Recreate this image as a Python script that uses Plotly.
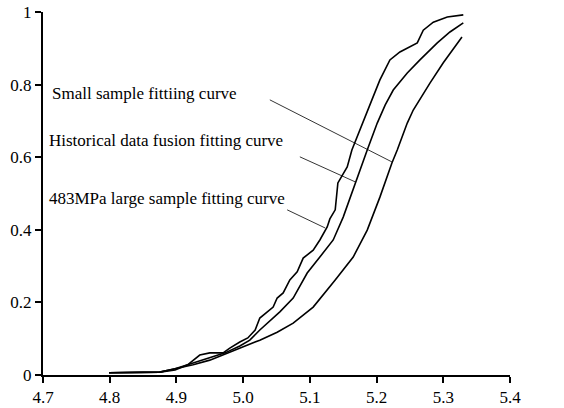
import plotly.graph_objects as go

# ── Data ────────────────────────────────────────────────────────────────────
# 483MPa large sample fitting curve (jagged)
large_x = [4.799, 4.875, 4.898, 4.917, 4.920, 4.935, 4.950, 4.970, 4.980, 4.995,
           5.007, 5.018, 5.025, 5.036, 5.045, 5.051, 5.060, 5.070, 5.081, 5.090,
           5.105, 5.115, 5.126, 5.130, 5.138, 5.142, 5.156, 5.163, 5.171, 5.180,
           5.193, 5.205, 5.220, 5.235, 5.261, 5.270, 5.285, 5.306, 5.330]
large_y = [0.006, 0.008, 0.014, 0.028, 0.033, 0.055, 0.061, 0.061, 0.074, 0.091,
           0.102, 0.124, 0.157, 0.174, 0.187, 0.212, 0.226, 0.262, 0.284, 0.322,
           0.344, 0.372, 0.408, 0.430, 0.455, 0.529, 0.573, 0.620, 0.656, 0.694,
           0.758, 0.813, 0.868, 0.890, 0.915, 0.950, 0.972, 0.986, 0.992]

# Historical data fusion fitting curve
fusion_x = [4.799, 4.875, 4.898, 4.920, 4.950, 4.973, 4.995, 5.010, 5.025, 5.040,
            5.055, 5.075, 5.096, 5.115, 5.135, 5.150, 5.168, 5.186, 5.201, 5.213,
            5.225, 5.246, 5.265, 5.291, 5.310, 5.330]
fusion_y = [0.006, 0.008, 0.017, 0.030, 0.047, 0.061, 0.080, 0.096, 0.124, 0.149,
            0.174, 0.212, 0.281, 0.325, 0.372, 0.435, 0.529, 0.620, 0.694, 0.744,
            0.785, 0.832, 0.868, 0.915, 0.945, 0.970]

# Small sample fitting curve
small_x = [4.799, 4.875, 4.898, 4.925, 4.950, 4.976, 5.003, 5.025, 5.051, 5.075,
           5.105, 5.138, 5.165, 5.186, 5.205, 5.223, 5.231, 5.246, 5.255, 5.280,
           5.300, 5.328]
small_y = [0.006, 0.008, 0.017, 0.028, 0.041, 0.061, 0.080, 0.096, 0.118, 0.143,
           0.187, 0.262, 0.325, 0.399, 0.490, 0.584, 0.620, 0.694, 0.730, 0.804,
           0.860, 0.931]

x_ticks = [4.7, 4.8, 4.9, 5.0, 5.1, 5.2, 5.3, 5.4]
y_ticks = [0, 0.2, 0.4, 0.6, 0.8, 1]

# labels: (text, text anchor x/y, leader start, leader end)
labels = [
    ("Small sample fittiing curve", 4.710, 0.775, (5.040, 0.758), (5.223, 0.587)),
    ("Historical data fusion fitting curve", 4.706, 0.647, (5.085, 0.601), (5.168, 0.532)),
    ("483MPa large sample fitting curve", 4.706, 0.487, (5.066, 0.455), (5.123, 0.405)),
]

FONT = "Liberation Serif, Times New Roman, serif"

fig = go.Figure()
for xs, ys in [(large_x, large_y), (fusion_x, fusion_y), (small_x, small_y)]:
    fig.add_trace(go.Scatter(x=xs, y=ys, mode="lines",
                             line=dict(color="black", width=1.6),
                             showlegend=False, hoverinfo="skip"))

for text, tx, ty, (x0, y0), (x1, y1) in labels:
    fig.add_annotation(x=tx, y=ty, text=text, showarrow=False,
                       xanchor="left", yanchor="middle",
                       font=dict(family=FONT, size=17, color="black"))
    fig.add_shape(type="line", x0=x0, y0=y0, x1=x1, y1=y1,
                  line=dict(color="black", width=0.8))

fig.update_layout(
    width=564, height=408,
    margin=dict(l=43, r=54, t=12, b=33),
    plot_bgcolor="white", paper_bgcolor="white",
    font=dict(family=FONT, size=17, color="black"),
    xaxis=dict(range=[4.7, 5.4], tickvals=x_ticks, tickformat=".1f",
               showgrid=False, zeroline=False, showline=True, automargin=False,
               linecolor="black", linewidth=2, ticks="outside",
               ticklen=6, tickwidth=2, tickcolor="black",
               ticklabeloverflow="allow"),
    yaxis=dict(range=[0, 1], tickvals=y_ticks, automargin=False,
               showgrid=False, zeroline=False, showline=True,
               linecolor="black", linewidth=2, ticks="outside",
               ticklen=6, tickwidth=2, tickcolor="black",
               ticklabeloverflow="allow"),
)

# drop the browser's default 8px body margin so the figure sits at 0,0
fig.write_html("out.html", config={"displayModeBar": False},
               post_script="document.body.style.margin='0';")
